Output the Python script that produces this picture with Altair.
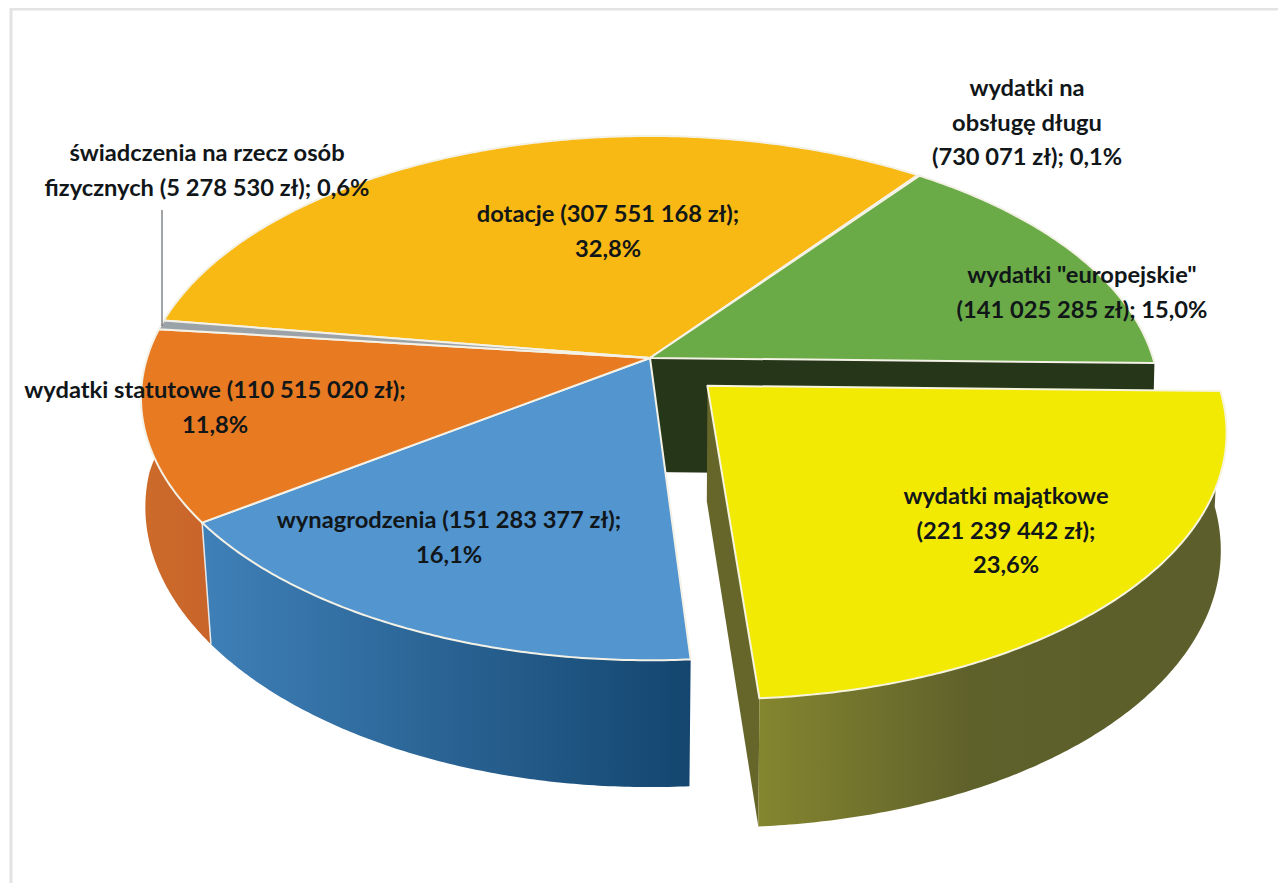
import math
import altair as alt

# ---- data ----
categories = ["dotacje", "wydatki na obsługę długu", 'wydatki "europejskie"', "wydatki majątkowe",
              "wynagrodzenia", "wydatki statutowe", "świadczenia na rzecz osób fizycznych"]
values = [307551168, 730071, 141025285, 221239442, 151283377, 110515020, 5278530]
label_texts = [
    "dotacje (307 551 168 zł);\n32,8%",
    "wydatki na\nobsługę długu\n(730 071 zł); 0,1%",
    'wydatki "europejskie"\n(141 025 285 zł); 15,0%',
    "wydatki majątkowe\n(221 239 442 zł);\n23,6%",
    "wynagrodzenia (151 283 377 zł);\n16,1%",
    "wydatki statutowe (110 515 020 zł);\n11,8%",
    "świadczenia na rzecz osób\nfizycznych (5 278 530 zł); 0,6%",
]

# ---- styling / layout ----
top_colors = ["#f9b914", "#6aab47", "#6aab47", "#f3ea04", "#5295cf", "#e87a22", "#9ba3a9"]
label_x = [608, 1027, 1082, 1006, 449, 215, 207]
label_y = [215, 89, 276, 497, 521, 391, 154]
CX, CY, RX, RY, K = 650, 358, 503, 256, 0.153
START = 36.7  # clockwise angle from the top at which the first slice after "dotacje" begins
EXPLODE = 0.155
DEPTH, DEPTH_GROW = 114, 84
SHRINK_EXPLODED = 0.99
WIDTH, HEIGHT = 1270, 875


def project(u, v, drop=False, s=None):
    w = 1 + K * v
    x = RX * u / w
    y = -RY * v / w
    if drop:
        x *= s if s is not None else 0.995 - 0.025 * abs(v)
        y += DEPTH + DEPTH_GROW * (1 - w)
    return [CX + x - 8, CY + y - 8]


def ground(t, off=(0.0, 0.0), r=1.0):
    a = math.radians(t)
    return r * math.sin(a) + off[0], r * math.cos(a) + off[1]


def arc(a0, a1, off=(0.0, 0.0), drop=False, s=None):
    n = max(2, int(abs(a1 - a0) * 2))
    return [project(*ground(a0 + (a1 - a0) * i / n, off), drop, s) for i in range(n + 1)]


def feature(ring, name):
    return {"type": "Feature", "properties": {"name": name},
            "geometry": {"type": "Polygon", "coordinates": [ring + [ring[0]]]}}


# slice angles derive from the values
total = sum(values)
order = [1, 2, 3, 4, 5, 6, 0]  # going clockwise from the dotacje end
angles = {}
t = START
for i in order:
    sweep = values[i] / total * 360
    angles[i] = (t, t + sweep)
    t += sweep


def shape(ring, name, fill, stroke=None, sw=0):
    kw = {"fill": fill}
    if stroke:
        kw.update(stroke=stroke, strokeWidth=sw, strokeJoin="round")
    else:
        kw.update(strokeWidth=0)
    return alt.Chart(alt.Data(values=[feature(ring, name)])).mark_geoshape(**kw).project(
        type="identity", scale=1, translate=[0, 0])


def grad(*stops):
    return alt.Gradient(gradient="linear", x1=0, x2=1, y1=0, y2=0,
                        stops=[alt.GradientStop(offset=o, color=c) for o, c in stops])


def wall(a0, a1, off=(0.0, 0.0), s=None):
    return arc(a0, a1, off) + arc(a1, a0, off, True, s)


layers = []

# border of the picture
layers.append(alt.Chart(alt.Data(values=[{"a": 1}])).mark_rule(color="#e3e3e3", strokeWidth=3).encode(
    x=alt.value(3), y=alt.value(0), y2=alt.value(HEIGHT)))
layers.append(alt.Chart(alt.Data(values=[{"a": 1}])).mark_rule(color="#e3e3e3", strokeWidth=3).encode(
    x=alt.value(3), x2=alt.value(WIDTH), y=alt.value(1)))

# walls of the unexploded pie
g_end = angles[2][1]
radial = [project(0, 0), project(*ground(g_end)), project(*ground(g_end), True), project(0, 0, True)]
layers.append(shape(radial, "green inner wall", "#263619"))
a0, a1 = angles[5]
layers.append(shape(wall(a0, a1), "orange wall", grad((0, "#cc6b2a"), (1, "#c9642a"))))
a0, a1 = angles[4]
layers.append(shape(wall(a0, a1), "blue wall", grad((0, "#3f80b8"), (1, "#14466f"))))
edge = [project(*ground(angles[5][0])), project(*ground(angles[5][0]), True)]
layers.append(alt.Chart(alt.Data(values=[feature(edge, "seam")])).mark_geoshape(
    filled=False, stroke="#e8e8e8", strokeWidth=1.5).project(type="identity", scale=1, translate=[0, 0]))

# tops of the unexploded slices
for i in [0, 1, 2, 4, 5, 6]:
    a0, a1 = angles[i]
    ring = [project(0, 0)] + arc(a0, a1)
    layers.append(shape(ring, categories[i], top_colors[i], "#f4f1e6", 2))

# exploded slice
a0, a1 = angles[3]
mid = math.radians((a0 + a1) / 2)
off = (EXPLODE * math.sin(mid), EXPLODE * math.cos(mid))
inner = [project(*off), project(*ground(a1, off)), project(*ground(a1, off), True, SHRINK_EXPLODED),
         project(*off, True, SHRINK_EXPLODED)]
layers.append(shape(inner, "yellow inner wall", "#66662a"))
layers.append(shape(wall(a0, a1, off, SHRINK_EXPLODED), "yellow wall",
                    grad((0, "#85862f"), (0.45, "#5f612b"), (1, "#5c5e2b"))))
ring = [project(*off)] + arc(a0, a1, off)
layers.append(shape(ring, categories[3], top_colors[3], "#f6f4dc", 2))

# leader line
layers.append(alt.Chart(alt.Data(values=[{"a": 1}])).mark_rule(color="#444a50", strokeWidth=1).encode(
    x=alt.value(154), y=alt.value(202), y2=alt.value(318)))

# labels
for txt, x, y in zip(label_texts, label_x, label_y):
    layers.append(alt.Chart(alt.Data(values=[{"label": txt}])).mark_text(
        font="Lato", fontWeight="bold", fontSize=23.7, color="#111619", align="center", baseline="middle",
        lineBreak="\n", lineHeight=34.5).encode(
        text="label:N", x=alt.value(x - 8), y=alt.value(y - 8)))

chart = alt.layer(*layers).properties(
    width=WIDTH, height=HEIGHT, padding=0, autosize=alt.AutoSizeParams(type="none"),
    background="white").configure_view(stroke=None)

chart.save("out.html", embed_options={"renderer": "svg", "actions": False})
